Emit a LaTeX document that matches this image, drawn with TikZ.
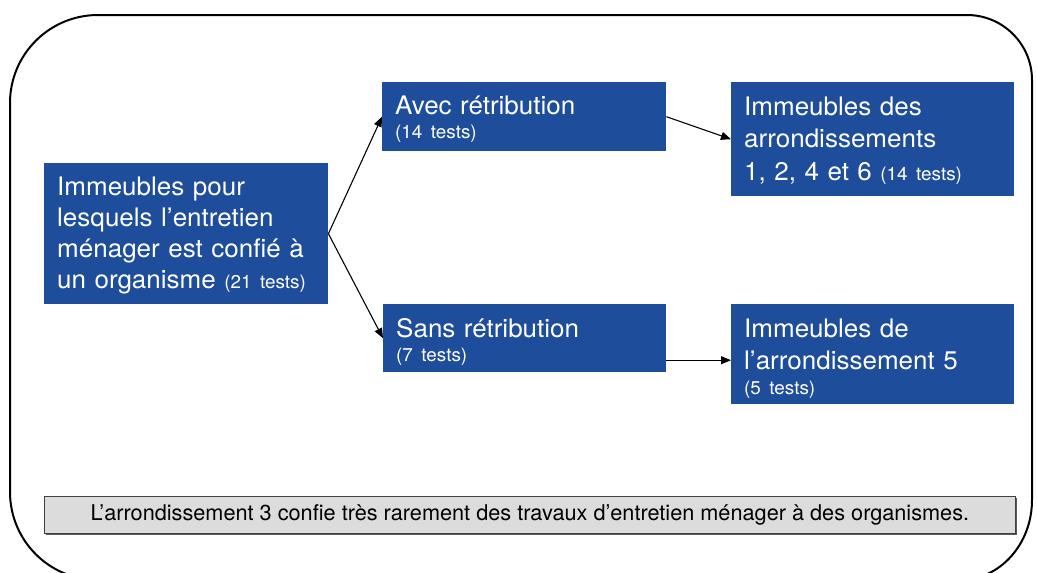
\documentclass[tikz,border=0pt]{standalone}
\usepackage{fontspec}
\setmainfont[FakeStretch=1.02, WordSpace=1.3]{TeX Gyre Heros}
\newfontfamily\notefont{TeX Gyre Heros}
\newfontfamily\countfont[FakeStretch=1.02]{TeX Gyre Heros}
\usetikzlibrary{arrows.meta,shadows}

\definecolor{boxblue}{RGB}{30,77,155}
\definecolor{notegrey}{RGB}{220,220,220}

\newcommand{\mainsize}{\fontsize{25.5}{31}\selectfont}
\newcommand{\testsize}{\countfont\fontsize{18.5}{22}\selectfont}
% fixed height of the first line and fixed depth of the last one,
% so the text block sits at a known place inside its box
\newcommand{\toppad}{\rule{0pt}{30pt}}
\newcommand{\botpad}[1]{\rule[-#1pt]{0pt}{0pt}}

\begin{document}
\begin{tikzpicture}[x=1pt,y=-1pt,
  bluebox/.style={rectangle, fill=boxblue, text=white, anchor=north west,
    inner xsep=13pt, inner ysep=0pt, align=left, font=\mainsize},
  link/.style={draw=black, line width=1.1pt, -{Triangle[length=10pt,width=8pt]}},
  notebox/.style={rectangle, draw=black!75, line width=0.8pt, fill=notegrey,
    anchor=north west, inner sep=0pt,
    drop shadow={shadow xshift=1.2pt, shadow yshift=-1.4pt, fill=black!65, opacity=1},
    font=\notefont\fontsize{21.7}{26}\selectfont}
]
\useasboundingbox (0,0) rectangle (1037,573);

% outer frame with rounded corners
\begin{scope}
  \clip (0,0) rectangle (1037,573);
  \draw[line width=2pt]
    (10,492) -- (10,103)
    arc[start angle=180, end angle=270, radius=88]
    -- (967,15)
    arc[start angle=270, end angle=360, radius=65]
    -- (1032,500)
    arc[start angle=0, end angle=90, x radius=72, y radius=80]
    -- (98,580)
    arc[start angle=90, end angle=180, radius=88]
    -- cycle;
\end{scope}

% boxes
\node[bluebox, minimum width=284pt, minimum height=141pt, text width=258pt] (src) at (44,163)
  {\toppad Immeubles pour\\lesquels l’entretien\\ménager est confié à\\un organisme {\testsize (21 tests)}\botpad{14}};

\node[bluebox, minimum width=284pt, minimum height=69pt, text width=258pt] (avec) at (382,82)
  {\toppad Avec rétribution\\[-7.5pt]{\testsize (14 tests)}\botpad{10}};

\node[bluebox, minimum width=283pt, minimum height=68pt, text width=257pt] (sans) at (383,304)
  {\toppad Sans rétribution\\[-6.5pt]{\testsize (7 tests)}\botpad{7.5}};

\node[bluebox, minimum width=283pt, minimum height=114pt, text width=257pt,
      font=\fontsize{25.5}{32.5}\selectfont] (des) at (731,82)
  {\toppad Immeubles des\\arrondissements\\1, 2, 4 et 6 {\testsize (14 tests)}\botpad{13}};

\node[bluebox, minimum width=283pt, minimum height=100pt, text width=257pt,
      font=\fontsize{25.5}{32}\selectfont] (de) at (731,304)
  {\toppad Immeubles de\\l’arrondissement 5\\[-7pt]{\testsize (5 tests)}\botpad{7}};

% note
\node[notebox, minimum width=971pt, minimum height=37pt] (note) at (44,496)
  {L’arrondissement 3 confie très rarement des travaux d’entretien ménager à des organismes.};

% connectors
\coordinate (deIn) at ([yshift=-6pt]de.west);
\draw[link] (src.east) -- (avec.west);
\draw[link] (src.east) -- (sans.west);
\draw[link] (avec.east) -- (des.west);
\draw[link] (sans.east |- deIn) -- (deIn);
\end{tikzpicture}
\end{document}
